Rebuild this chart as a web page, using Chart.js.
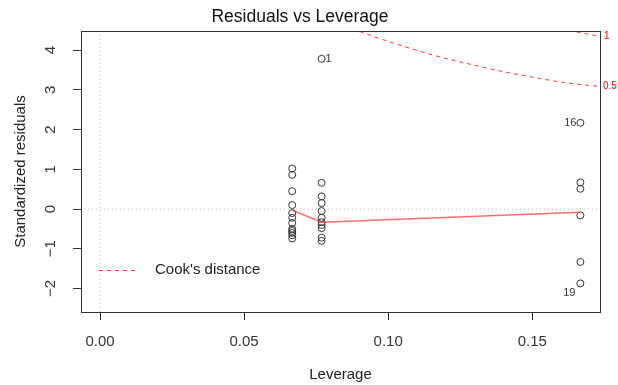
<!DOCTYPE html>
<html>
<head>
<meta charset="utf-8">
<script src="https://cdn.jsdelivr.net/npm/chart.js@4"></script>
<style>
  body { margin: 0; background: #fff; }
  #wrap { width: 618px; height: 385px; }
</style>
</head>
<body>
<div id="wrap"><canvas id="resLevChart" width="618" height="385"></canvas></div>
<script>
const FONT = '"Liberation Sans", Arial, sans-serif';

// leverage of each group and standardized residuals
const groupLeverage = [0.0667, 0.0769, 0.1667];
const resid1 = [1.02, 0.86, 0.45, 0.10, -0.10, -0.22, -0.35, -0.50, -0.55, -0.60, -0.66, -0.74];
const resid2 = [3.78, 0.66, 0.32, 0.15, -0.05, -0.22, -0.33, -0.40, -0.48, -0.72, -0.80];
const resid3 = [2.17, 0.67, 0.51, -0.16, -1.33, -1.87];

// red smoother
const smoothLev = [0.0667, 0.0769, 0.1667];
const smoothResid = [-0.03, -0.33, -0.08];

// Cook's distance contours (0.5 and 1)
const cookHalfLev = [0.085, 0.0897, 0.1038, 0.1153, 0.1269, 0.1384, 0.1499, 0.1615, 0.1735];
const cookHalfResid = [4.62, 4.48, 4.13, 3.88, 3.67, 3.48, 3.32, 3.18, 3.08];
const cookOneLev = [0.160, 0.1638, 0.1735];
const cookOneResid = [4.56, 4.48, 4.34];

// labelled points
const labelIds = ['1', '16', '19'];
const labelLev = [0.0769, 0.1667, 0.1667];
const labelResid = [3.78, 2.17, -1.87];

const xTicks = [0, 0.05, 0.10, 0.15];
const yTicks = [-2, -1, 0, 1, 2, 3, 4];
const xRange = [-0.0066, 0.1735];
const yRange = [-2.59, 4.48];

const toPts = (xs, ys) => xs.map((x, i) => ({ x, y: ys[i] }));
const groupPts = [resid1, resid2, resid3].flatMap((r, g) => r.map(y => ({ x: groupLeverage[g], y })));

const extras = {
  id: 'extras',
  afterDraw(chart) {
    const { ctx, chartArea: a, scales: { x, y } } = chart;
    ctx.save();
    // box
    ctx.strokeStyle = '#333';
    ctx.lineWidth = 1;
    ctx.strokeRect(a.left + 0.5, a.top + 0.5, a.right - a.left, a.bottom - a.top);

    // y tick labels, parallel to axis
    ctx.fillStyle = '#333';
    ctx.font = '15px ' + FONT;
    ctx.textAlign = 'center';
    ctx.textBaseline = 'middle';
    yTicks.forEach(v => {
      ctx.save();
      ctx.translate(51, y.getPixelForValue(v));
      ctx.rotate(-Math.PI / 2);
      ctx.fillText(v < 0 ? '\u2212' + Math.abs(v) : String(v), 0, 0);
      ctx.restore();
    });

    // point ids
    ctx.font = '11px ' + FONT;
    labelIds.forEach((t, i) => {
      const px = x.getPixelForValue(labelLev[i]);
      const py = y.getPixelForValue(labelResid[i]);
      if (t === '1') { ctx.textAlign = 'left'; ctx.fillText(t, px + 4, py); }
      else if (t === '16') { ctx.textAlign = 'right'; ctx.fillText(t, px - 4, py); }
      else { ctx.textAlign = 'right'; ctx.fillText(t, px - 5, py + 10); }
    });

    // contour labels
    ctx.fillStyle = '#f00';
    ctx.font = '10px ' + FONT;
    ctx.textAlign = 'left';
    ctx.fillText('1', a.right + 4, y.getPixelForValue(cookOneResid[cookOneResid.length - 1]));
    ctx.fillText('0.5', a.right + 3, y.getPixelForValue(cookHalfResid[cookHalfResid.length - 1]));

    // legend
    ctx.strokeStyle = 'rgba(255,0,0,0.8)';
    ctx.setLineDash([4, 4]);
    ctx.beginPath();
    ctx.moveTo(99, 270.5);
    ctx.lineTo(138, 270.5);
    ctx.stroke();
    ctx.setLineDash([]);
    ctx.fillStyle = '#222';
    ctx.font = '15px ' + FONT;
    ctx.textAlign = 'left';
    ctx.fillText("Cook's distance", 155, 270);
    ctx.restore();
  }
};

new Chart(document.getElementById('resLevChart'), {
  type: 'scatter',
  data: {
    datasets: [
      { data: [{ x: 0, y: -5 }, { x: 0, y: 6 }], showLine: true, pointRadius: 0,
        borderColor: '#bbb', borderWidth: 1, borderDash: [1, 3] },
      { data: [{ x: -0.1, y: 0 }, { x: 0.3, y: 0 }], showLine: true, pointRadius: 0,
        borderColor: '#bbb', borderWidth: 1, borderDash: [1, 3] },
      { data: toPts(cookHalfLev, cookHalfResid), showLine: true, pointRadius: 0,
        borderColor: 'rgba(255,0,0,0.8)', borderWidth: 1, borderDash: [4, 4], cubicInterpolationMode: 'monotone' },
      { data: toPts(cookOneLev, cookOneResid), showLine: true, pointRadius: 0,
        borderColor: 'rgba(255,0,0,0.8)', borderWidth: 1, borderDash: [4, 4] },
      { data: toPts(smoothLev, smoothResid), showLine: true, pointRadius: 0,
        borderColor: 'rgba(255,60,60,0.75)', borderWidth: 1.5 },
      { data: groupPts, pointRadius: 3.5, pointBorderColor: '#333', pointBackgroundColor: 'rgba(0,0,0,0)',
        pointBorderWidth: 1, showLine: false }
    ]
  },
  options: {
    responsive: false, animation: false,
    layout: { padding: { left: 0, right: 18, top: 0, bottom: 0 } },
    plugins: {
      legend: { display: false },
      tooltip: { enabled: false },
      title: { display: true, text: 'Residuals vs Leverage', color: '#111',
        font: { family: FONT, size: 17.5, weight: 'normal' }, padding: { top: 6.5, bottom: 3.5 } }
    },
    scales: {
      x: {
        type: 'linear', min: xRange[0], max: xRange[1],
        afterBuildTicks: s => { s.ticks = xTicks.map(v => ({ value: v })); },
        afterFit: s => { s.height = 73; },
        grid: { drawOnChartArea: false, drawTicks: true, tickLength: 8, tickColor: '#333' },
        border: { display: true, color: '#333' },
        ticks: { color: '#333', font: { family: FONT, size: 15 }, padding: 13, maxRotation: 0,
          callback: v => Number(v).toFixed(2) },
        title: { display: true, text: 'Leverage', color: '#222', font: { family: FONT, size: 15 },
          padding: { top: 0, bottom: 1 } }
      },
      y: {
        type: 'linear', min: yRange[0], max: yRange[1],
        afterBuildTicks: s => { s.ticks = yTicks.map(v => ({ value: v })); },
        afterFit: s => { s.width = 81; },
        grid: { drawOnChartArea: false, drawTicks: true, tickLength: 8, tickColor: '#333' },
        border: { display: true, color: '#333' },
        ticks: { display: false },
        title: { display: true, text: 'Standardized residuals', color: '#222', font: { family: FONT, size: 15 },
          padding: { top: 12, bottom: 0 } }
      }
    }
  },
  plugins: [extras]
});
</script>
</body>
</html>
